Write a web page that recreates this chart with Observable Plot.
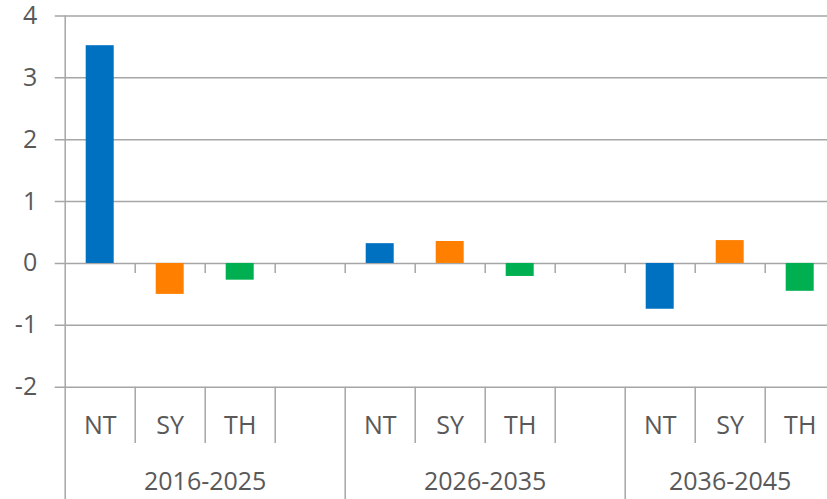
<!DOCTYPE html>
<html>
<head>
<meta charset="utf-8">
<script src="https://cdn.jsdelivr.net/npm/d3@7"></script>
<script src="https://cdn.jsdelivr.net/npm/@observablehq/plot@0.6"></script>
<style>
  html, body { margin: 0; padding: 0; background: #ffffff; }
  #chart svg { display: block; }
</style>
</head>
<body>
<div id="chart"></div>
<script>
// ---- data ----
const groups = ["2016-2025", "2026-2035", "2036-2045"];
const regions = ["NT", "SY", "TH"];
const valuesNT = [3.52, 0.32, -0.74];
const valuesSY = [-0.50, 0.355, 0.37];
const valuesTH = [-0.27, -0.21, -0.45];
const yTicks = [-2, -1, 0, 1, 2, 3, 4];
const regionColors = ["#0070C0", "#FF8000", "#00B050"];

// ---- build table ----
const series = [valuesNT, valuesSY, valuesTH];
const slotsPerGroup = groups.map((g, i) => i < groups.length - 1 ? regions.length + 1 : regions.length);
const groupStart = slotsPerGroup.map((n, i) => d3.sum(slotsPerGroup.slice(0, i)));
const nSlots = d3.sum(slotsPerGroup);
const rows = [];
groups.forEach((g, gi) => {
  regions.forEach((r, ri) => {
    rows.push({group: g, region: r, value: series[ri][gi], slot: groupStart[gi] + ri});
  });
});
const bounds = d3.range(0, nSlots + 1);
const groupBounds = groupStart.slice(1);
const subBounds = bounds.filter(b => b > 0 && b < nSlots && !groupStart.includes(b));
const tickBounds = bounds.filter(b => b > 0);

const gridColor = "#a6a6a6";
const textColor = "#595959";

const chart = Plot.plot({
  width: 827,
  height: 499,
  marginLeft: 64.7,
  marginRight: 0,
  marginTop: 15.5,
  marginBottom: 112.3,
  style: {fontFamily: "'Open Sans', 'Noto Sans', sans-serif", fontSize: "25px", background: "#ffffff", color: textColor, overflow: "visible"},
  x: {type: "linear", domain: [0, nSlots], range: [64.7, 64.7 + 70 * nSlots], axis: null},
  y: {domain: [-2, 4], range: [386.7, 15.5], axis: null},
  color: {domain: regions, range: regionColors},
  marks: [
    // horizontal gridlines with short left ticks
    Plot.ruleY(yTicks, {y: d => d, x1: () => 0, x2: () => nSlots, insetLeft: -10, stroke: gridColor, strokeWidth: 1.5}),
    // bars
    Plot.rectY(rows, {x1: d => d.slot + 0.3, x2: d => d.slot + 0.7, y1: () => 0, y2: "value", fill: "region"}),
    // tick marks hanging below the zero line
    Plot.ruleX(tickBounds, {x: d => d, y1: () => 0, y2: () => 0, insetBottom: -10, stroke: gridColor, strokeWidth: 1.5}),
    // vertical axis line (extends to bottom)
    Plot.ruleX([0], {x: d => d, insetBottom: -112.3, stroke: gridColor, strokeWidth: 1.5}),
    // group separators below axis
    Plot.ruleX(groupBounds, {x: d => d, y1: () => -2, y2: () => -2, insetBottom: -112.3, stroke: gridColor, strokeWidth: 1.5}),
    // subcategory separators below axis
    Plot.ruleX(subBounds, {x: d => d, y1: () => -2, y2: () => -2, insetBottom: -56.3, stroke: gridColor, strokeWidth: 1.5}),
    // y tick labels
    Plot.text(yTicks, {y: d => d, frameAnchor: "left", dx: -28, textAnchor: "end", lineAnchor: "middle", text: d => String(d), fill: textColor, fontSize: 25}),
    // region labels
    Plot.text(rows, {x: d => d.slot + 0.5, frameAnchor: "bottom", lineAnchor: "middle", dy: 39, text: "region", fill: textColor, fontSize: 25}),
    // group labels
    Plot.text(groups, {x: (d, i) => groupStart[i] + slotsPerGroup[i] / 2, frameAnchor: "bottom", lineAnchor: "middle", dy: 95, text: d => d, fill: textColor, fontSize: 25})
  ]
});
document.getElementById("chart").appendChild(chart);
</script>
</body>
</html>
